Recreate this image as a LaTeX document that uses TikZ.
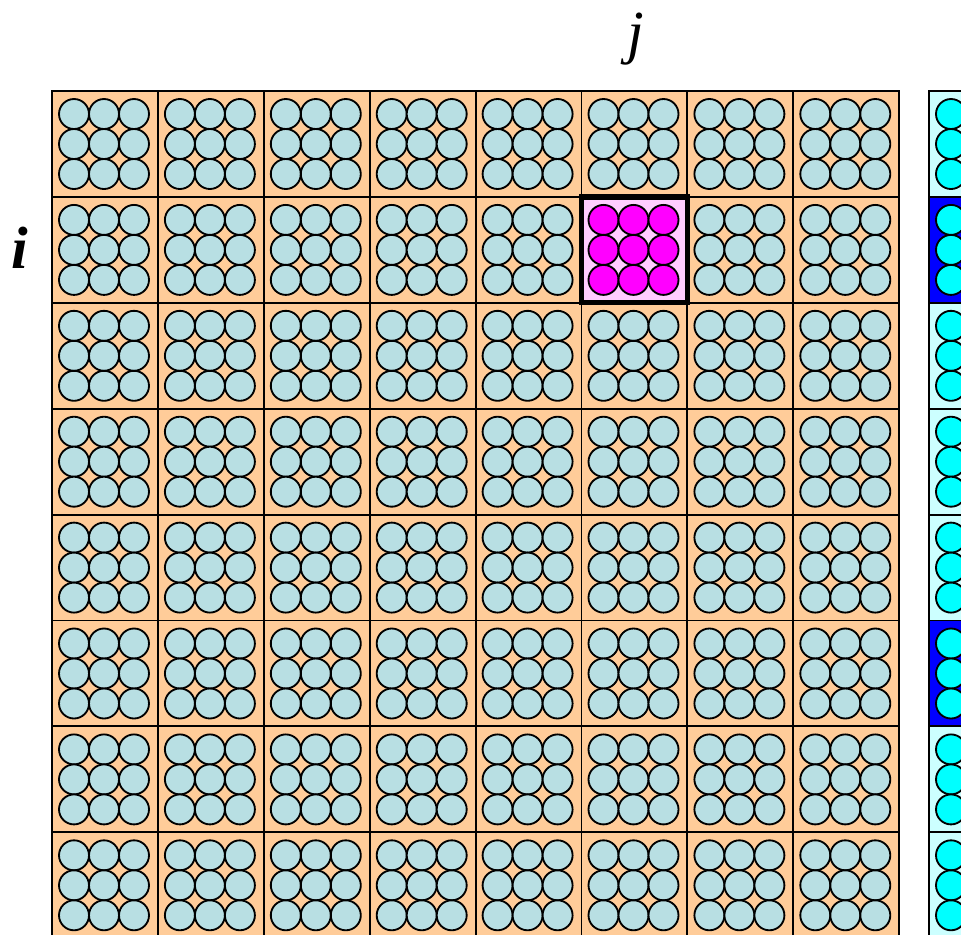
\documentclass[tikz,border=0pt]{standalone}
\usepackage{fontspec}
\setmainfont{Liberation Serif}
\usepackage{tikz}
\usetikzlibrary{positioning}
\definecolor{cellorange}{HTML}{FFCC99}
\definecolor{molblue}{HTML}{B8DFE3}
\definecolor{hotpink}{HTML}{FFCCFF}
\definecolor{hotmol}{HTML}{FF00FF}
\definecolor{sidefill}{HTML}{CCFFFF}
\definecolor{sidemol}{HTML}{00FFFF}
\definecolor{sideblue}{HTML}{0000FF}

\begin{document}
\begin{tikzpicture}[x=0.02cm,y=-0.02cm,
		cellbox/.style={draw=black,line width=1.05pt,fill=cellorange},
		mol/.style={draw=black,line width=1.05pt,fill=molblue},
		hotbox/.style={draw=black,line width=3pt,fill=hotpink},
		hotmolecule/.style={mol,fill=hotmol},
		sidebox/.style={draw=black,line width=1.05pt,fill=sidefill},
		sidemolecule/.style={mol,fill=sidemol},
		idx/.style={font=\fontsize{34}{40}\selectfont\itshape,inner sep=0pt,anchor=base}]
	\useasboundingbox (0,0) rectangle (961,934);
	\clip (0,0) rectangle (961,934);
	% main 8x8 lattice
	\foreach \r in {0,...,7}
	{\foreach \c in {0,...,7}
		{\draw[cellbox] ({52+105.9*\c},{91+105.9*\r}) rectangle ++(105.9,105.9);
		 \foreach \a in {0,1,2}
			\foreach \b in {0,1,2}
			{\draw[mol] ({74+105.9*\c+30*\a},{114+105.9*\r+30*\b}) circle[radius=0.3cm];}
		}
	}
	% cell (i,j)
	\draw[hotbox] ({52+105.9*5},{91+105.9}) rectangle ++(105.9,105.9);
	\foreach \a in {0,1,2}
		\foreach \b in {0,1,2}
		{\draw[hotmolecule] ({74+105.9*5+30*\a},{114+105.9+30*\b}) circle[radius=0.3cm];}
	% side column
	\foreach \r in {0,...,7}
	{\draw[sidebox] (929,{91+105.9*\r}) rectangle ++(105.9,105.9);
	 \foreach \a in {0,1,2}
		\foreach \b in {0,1,2}
		{\draw[sidemolecule] ({951+30*\a},{114+105.9*\r+30*\b}) circle[radius=0.3cm];}
	}
	\foreach \r in {1,5}
	{\draw[sidebox,fill=sideblue] (929,{91+105.9*\r}) rectangle ++(105.9,105.9);
	 \foreach \a in {0,1,2}
		\foreach \b in {0,1,2}
		{\draw[sidemolecule] ({951+30*\a},{114+105.9*\r+30*\b}) circle[radius=0.3cm];}
	}
	\node[idx] (jlabel) at (636,52) {j};
	\node[idx,font=\fontsize{34}{40}\selectfont\itshape\bfseries] (ilabel) at (20,268) {i};
\end{tikzpicture}
\end{document}
